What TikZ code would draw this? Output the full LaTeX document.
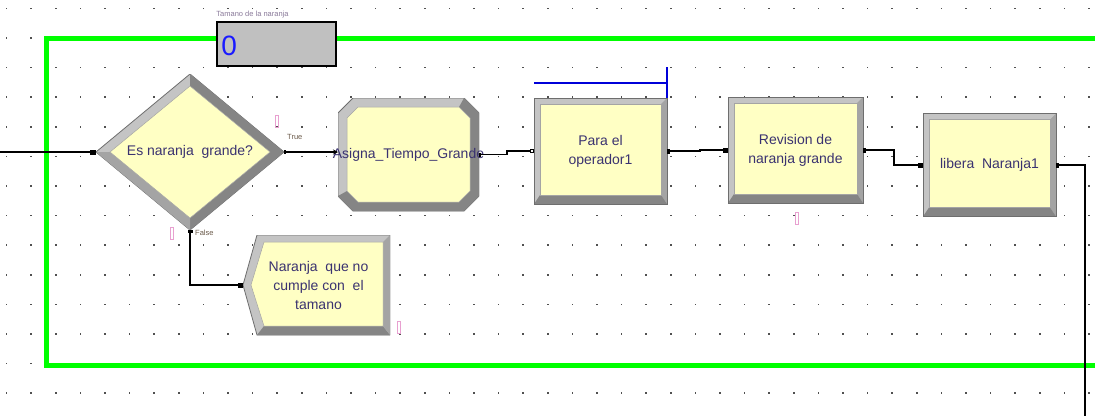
\documentclass[tikz,border=0pt]{standalone}
\usepackage{fontspec}
\setmainfont{Liberation Sans}
\usetikzlibrary{shapes.geometric,arrows.meta,calc}
\definecolor{yel}{HTML}{FFFFC4}
\definecolor{bevlight}{HTML}{C4C4C4}
\definecolor{bevmid}{HTML}{A4A4A4}
\definecolor{bevdark}{HTML}{858585}
\definecolor{bevedge}{HTML}{6E6E6E}
\definecolor{txt}{HTML}{3A3270}
\definecolor{grn}{HTML}{00FF00}
\definecolor{qpink}{HTML}{E8A0D0}
\definecolor{dotc}{HTML}{505050}
\definecolor{tagc}{HTML}{6B5A4A}
\definecolor{cntblue}{HTML}{1A1AFF}
\definecolor{cntgray}{HTML}{C0C0C0}
\definecolor{cntlbl}{HTML}{8A7A9A}
\newcommand\PP[2]{([shift={(#1pt,#2pt)}]path picture bounding box.south west)}
\tikzset{
  lbl/.style={font=\fontsize{14}{19}\selectfont, text=txt, align=center},
  bevbox/.style={rectangle, draw=bevedge, line width=0.8pt, fill=bevlight,
    inner sep=0pt, outer sep=0pt, lbl,
    path picture={
      \fill[bevmid] (path picture bounding box.south east) -- (path picture bounding box.north east)
        -- ([shift={(-6pt,-6pt)}]path picture bounding box.north east)
        -- ([shift={(-6pt,9pt)}]path picture bounding box.south east) -- cycle;
      \fill[bevdark] (path picture bounding box.south west) -- (path picture bounding box.south east)
        -- ([shift={(-6pt,9pt)}]path picture bounding box.south east)
        -- ([shift={(6pt,9pt)}]path picture bounding box.south west) -- cycle;
      \filldraw[fill=yel, draw=bevmid, line width=0.5pt]
        ([shift={(6pt,9pt)}]path picture bounding box.south west) rectangle
        ([shift={(-6pt,-6pt)}]path picture bounding box.north east);
    }},
  chambox/.style={rectangle, draw=none, inner sep=0pt, outer sep=0pt, lbl,
    minimum width=141, minimum height=113,
    path picture={
      \filldraw[fill=bevlight, draw=bevedge, line width=0.8pt]
        \PP{15}{0} -- \PP{126}{0} -- \PP{141}{15} -- \PP{141}{98} -- \PP{126}{113} -- \PP{15}{113} -- \PP{0}{98} -- \PP{0}{15} -- cycle;
      \fill[bevdark] \PP{0}{15} -- \PP{15}{0} -- \PP{126}{0} -- \PP{141}{15} -- \PP{141}{98} -- \PP{126}{113}
        -- \PP{121}{104} -- \PP{132}{93} -- \PP{132}{20} -- \PP{121}{9} -- \PP{20}{9} -- \PP{9}{20} -- cycle;
      \filldraw[fill=yel, draw=bevmid, line width=0.5pt]
        \PP{20}{9} -- \PP{121}{9} -- \PP{132}{20} -- \PP{132}{93} -- \PP{121}{104} -- \PP{20}{104} -- \PP{9}{93} -- \PP{9}{20} -- cycle;
    }},
  diabox/.style={rectangle, draw=none, inner sep=0pt, outer sep=0pt, lbl,
    minimum width=188, minimum height=156,
    path picture={
      \filldraw[fill=bevlight, draw=bevedge, line width=0.8pt]
        \PP{94}{156} -- \PP{188}{78} -- \PP{94}{0} -- \PP{0}{78} -- cycle;
      \fill[bevdark] \PP{94}{156} -- \PP{188}{78} -- \PP{94}{0} -- \PP{94}{12} -- \PP{174}{78} -- \PP{94}{144} -- cycle;
      \fill[bevmid] \PP{0}{78} -- \PP{94}{0} -- \PP{94}{12} -- \PP{14}{78} -- cycle;
      \filldraw[fill=yel, draw=bevmid, line width=0.5pt]
        \PP{94}{144} -- \PP{174}{78} -- \PP{94}{12} -- \PP{14}{78} -- cycle;
    }},
  dispbox/.style={rectangle, draw=none, inner sep=0pt, outer sep=0pt, lbl,
    minimum width=147, minimum height=100,
    path picture={
      \filldraw[fill=bevlight, draw=bevedge, line width=0.8pt]
        \PP{14}{100} -- \PP{147}{100} -- \PP{147}{0} -- \PP{14}{0} -- \PP{0}{50} -- cycle;
      \fill[bevdark] \PP{14}{0} -- \PP{147}{0} -- \PP{140}{9} -- \PP{21}{9} -- cycle;
      \fill[bevmid] \PP{147}{0} -- \PP{147}{100} -- \PP{140}{93} -- \PP{140}{9} -- cycle;
      \filldraw[fill=yel, draw=bevmid, line width=0.5pt]
        \PP{21}{93} -- \PP{140}{93} -- \PP{140}{9} -- \PP{21}{9} -- \PP{8}{50} -- cycle;
    }},
  conn/.style={draw=black, line width=1.3pt},
  tag/.style={font=\fontsize{7.5}{8}\selectfont, text=tagc, inner sep=0pt},
  qmark/.style={draw=qpink, line width=0.9pt},
  resbar/.style={draw=blue!85!black, line width=1.4pt},
}
\begin{document}
\begin{tikzpicture}[x=1pt,y=-1pt]
\useasboundingbox (0,0) rectangle (1095,416);
\fill[white] (0,0) rectangle (1095,416);
% dot grid
\foreach \i in {0,...,44}{\foreach \j in {0,...,13}{
  \fill[dotc] ({6.5+24.6*\i-0.8},{8.3+29.6*\j-0.8}) rectangle ++(1.6,1.6);}}
% green frame
\draw[grn, line width=5pt] (1095,38) -- (46,38) -- (46,365) -- (1095,365);

% counter
\node[rectangle, draw=black, line width=1.5pt, fill=cntgray, minimum width=119, minimum height=44, inner sep=0pt] (counter) at (276.5,44) {};
\node[anchor=west, font=\fontsize{28}{28}\selectfont, text=cntblue, inner sep=0pt] (countval) at ([shift={(5pt,-2pt)}]counter.west) {0};
\node[anchor=south west, font=\fontsize{7.5}{8}\selectfont, text=cntlbl, inner sep=0pt] (countlbl) at ([yshift=3pt]counter.north west) {Tamano de la naranja};

% modules
\node[diabox] (dec) at (190,152) {\makebox[0pt]{Es naranja\ \ grande?}};
\node[chambox] (asigna) at (408.5,154.5) {\makebox[0pt]{Asigna\_Tiempo\_Grande}};
\node[bevbox, minimum width=133, minimum height=106] (para) at (600.5,151) {Para el\\operador1};
\node[bevbox, minimum width=135, minimum height=106] (rev) at (795.5,150) {Revision de\\naranja grande};
\node[bevbox, minimum width=133, minimum height=103] (libera) at (989.5,165) {libera\ \ Naranja1};
\node[dispbox] (disp) at (316.5,285) {\hspace*{4pt}Naranja\ \ que no\\\hspace*{4pt}cumple con\ \ el\\\hspace*{4pt}tamano};

% resource bar over Para el
\draw[resbar] ([yshift=15pt]para.north west) -- ([yshift=15pt]para.north east)
  ([yshift=31pt]para.north east) -- (para.north east);

% queue marks
\draw[qmark] (275,115) rectangle (278,127);
\draw[qmark] (170,227) rectangle (173,239);
\draw[qmark] (795,212) rectangle (798,224);
\draw[qmark] (397,321) rectangle (400,333);

% branch tags
\node[tag, anchor=south west] (truelbl) at (287,140) {True};
\node[tag, anchor=north west] (falselbl) at (195,230) {False};

% connectors
\coordinate (in) at (0,152);
\coordinate (out) at (1085,416);
\draw[conn, -{Square[length=6pt,width=5pt]}] (in) -- (dec.west);
\draw[conn, {Square[length=2pt,width=4pt]}-{Stealth[length=5pt,width=5pt]}] (dec.east) -- (dec.east -| asigna.west);
\draw[conn, {Square[length=2pt,width=4pt]}-{Square[length=4pt,width=4.5pt,open]}] (asigna.east) -- ++(28,0) |- (para.west);
\draw[conn, {Square[length=3pt,width=5pt]}-{Square[length=5pt,width=5pt]}] (para.east) -- ++(33,0) |- (rev.west);
\draw[conn, {Square[length=3pt,width=5pt]}-{Square[length=5pt,width=5pt]}] (rev.east) -- ++(31,0) |- (libera.west);
\draw[conn, {Square[length=3pt,width=5pt]}-] (libera.east) -| (out);
\draw[conn, {Square[length=3pt,width=5pt]}-{Square[length=5pt,width=5pt]}] (dec.south) |- (disp.west);
\end{tikzpicture}
\end{document}
